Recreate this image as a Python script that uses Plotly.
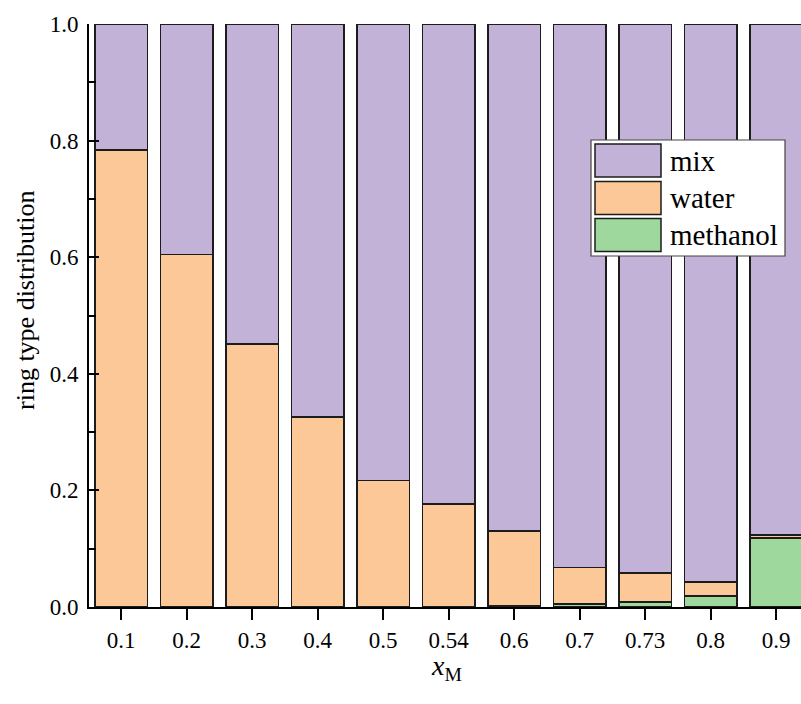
import plotly.graph_objects as go

# Methanol mole fraction categories
x_m = ["0.1", "0.2", "0.3", "0.4", "0.5", "0.54", "0.6", "0.7", "0.73", "0.8", "0.9"]

# Fraction of rings of each type (stacked bottom to top: methanol, water, mix)
methanol = [0.0, 0.0, 0.0, 0.0, 0.0005, 0.001, 0.002, 0.005, 0.009, 0.019, 0.118]
water = [0.784, 0.605, 0.451, 0.326, 0.2165, 0.176, 0.128, 0.0625, 0.049, 0.024, 0.0055]
mix = [0.216, 0.395, 0.549, 0.674, 0.7830, 0.823, 0.870, 0.9325, 0.942, 0.957, 0.8765]

series_names = ["mix", "water", "methanol"]
series_colors = {"mix": "#C2B2D7", "water": "#FDC897", "methanol": "#9FD89D"}
outline = "#1c1c1c"

W, H = 801, 704
L, R, T, B = 89, 0, 24, 97
FONT = "'Liberation Serif', 'Times New Roman', 'DejaVu Serif', serif"

fig = go.Figure()
for name, vals in [("methanol", methanol), ("water", water), ("mix", mix)]:
    fig.add_trace(go.Bar(
        x=list(range(len(x_m))), y=vals, name=name,
        marker=dict(color=series_colors[name], line=dict(color=outline, width=1.5)),
        showlegend=False,
    ))

# pixel -> paper coordinate helpers for the legend box and titles
pw, ph = W - L - R, H - T - B
def px(x):
    return (x - L) / pw
def py(y):
    return (H - B - y) / ph

shapes = [dict(type="rect", xref="paper", yref="paper",
               x0=px(591), x1=px(785), y0=py(256), y1=py(140),
               fillcolor="white", line=dict(color="#444", width=1.2), layer="above")]
annotations = []
row_top = [144, 181.5, 218.5]
for name, top in zip(series_names, row_top):
    shapes.append(dict(type="rect", xref="paper", yref="paper",
                       x0=px(595), x1=px(661), y0=py(top + 33), y1=py(top),
                       fillcolor=series_colors[name], line=dict(color=outline, width=1.5),
                       layer="above"))
    annotations.append(dict(xref="paper", yref="paper", x=px(668), y=py(top + 16.5),
                            text=name, showarrow=False, xanchor="left", yanchor="middle",
                            font=dict(family=FONT, size=29, color="black")))

# axis titles
annotations.append(dict(xref="paper", yref="paper", x=px(25), y=py(300),
                        text="ring type distribution", textangle=-90, showarrow=False,
                        xanchor="center", yanchor="middle",
                        font=dict(family=FONT, size=26, color="black")))
annotations.append(dict(xref="paper", yref="paper", x=px(447), y=py(667),
                        text="<i>x</i><sub>M</sub>", showarrow=False,
                        xanchor="center", yanchor="middle",
                        font=dict(family=FONT, size=28, color="black")))

fig.update_layout(
    width=W, height=H,
    margin=dict(l=L, r=R, t=T, b=B, pad=0),
    paper_bgcolor="white", plot_bgcolor="white",
    barmode="stack", bargap=0.2,
    font=dict(family=FONT, size=23, color="black"),
    shapes=shapes, annotations=annotations,
    xaxis=dict(
        range=[-0.49, 10.38],
        tickmode="array", tickvals=list(range(len(x_m))), ticktext=x_m,
        ticks="outside", ticklen=11, tickwidth=2, tickcolor="black",
        showline=True, linecolor="black", linewidth=2,
        showgrid=False, zeroline=False,
        tickfont=dict(family=FONT, size=23),
    ),
    yaxis=dict(
        range=[0, 1.0], tickvals=[0, 0.2, 0.4, 0.6, 0.8, 1.0],
        ticktext=["0.0", "0.2", "0.4", "0.6", "0.8", "1.0"],
        ticks="inside", ticklen=10, tickwidth=2, tickcolor="black",
        minor=dict(ticks="inside", ticklen=7, tickwidth=2, tickcolor="black", dtick=0.1),
        showline=True, linecolor="black", linewidth=2,
        showgrid=False, zeroline=False,
        tickfont=dict(family=FONT, size=23), ticklabelstandoff=4,
    ),
)

fig.write_html("out.html")
